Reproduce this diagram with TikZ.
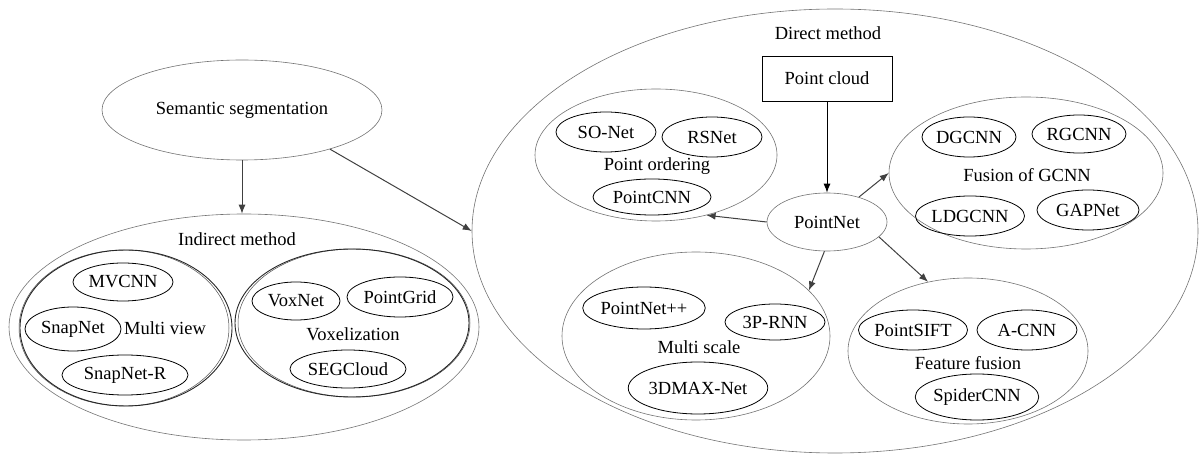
\documentclass[tikz,border=0pt]{standalone}
\usepackage{fontspec}
\setmainfont{Liberation Serif}
\usetikzlibrary{shapes.geometric,arrows.meta}
\begin{document}
\begin{tikzpicture}[x=1pt,y=-1pt,
  txt/.style={font=\fontsize{18.5}{20}\selectfont},
  sz/.style n args={2}{minimum width=#1pt,minimum height=#2pt},
  grp/.style={draw=black!55,line width=0.6pt,ellipse,inner sep=0pt},
  sub/.style={draw=black!85,line width=0.9pt,ellipse,inner sep=0pt},
  item/.style={draw=black,line width=0.8pt,ellipse,inner sep=0pt,txt},
  lbl/.style={inner sep=0pt,txt},
  arr/.style={draw=black!75,line width=1pt,-{Latex[length=9pt,width=7pt]}},
]
\useasboundingbox (0,0) rectangle (1200,454);

% left part
\node[grp,sz={280}{100},txt] (sem) at (242,110) {Semantic segmentation};
\node[grp,sz={470}{226}] (ind) at (244,327) {};
\node[lbl] (indl) at (237,239) {Indirect method};
\draw[black!70,line width=0.5pt] (124,328) ellipse [x radius=105, y radius=78];
\node[sub,sz={212}{156}] (mv) at (126,328) {};
\node[item,sz={100}{38}] (mvcnn) at (123,282) {MVCNN};
\node[item,sz={96}{44}] (snapnet) at (73,329) {SnapNet};
\node[lbl] (mvl) at (165,328) {Multi view};
\node[item,sz={126}{40}] (snapnetr) at (125,375) {SnapNet-R};
\draw[black!70,line width=0.5pt] (354,323) ellipse [x radius=116, y radius=74];
\node[sub,sz={234}{148}] (vox) at (352,323) {};
\node[item,sz={88}{38}] (voxnet) at (296,301) {VoxNet};
\node[item,sz={106}{40}] (pointgrid) at (400,297) {PointGrid};
\node[lbl] (voxl) at (353,334) {Voxelization};
\node[item,sz={116}{38}] (segcloud) at (348,369) {SEGCloud};

% right part
\node[grp,sz={726}{444}] (direct) at (835,231) {};
\node[lbl] (dirl) at (828,33) {Direct method};
\node[draw=black,line width=0.8pt,rectangle,inner sep=0pt,sz={130}{45},txt] (pc) at (827,78.5) {Point cloud};
\node[grp,sz={120}{58},txt] (pn) at (827,222) {PointNet};

\node[grp,sz={242}{132}] (po) at (656,155) {};
\node[item,sz={100}{40}] (sonet) at (606,132) {SO-Net};
\node[item,sz={100}{40}] (rsnet) at (712,137) {RSNet};
\node[lbl] (pol) at (657,166) {Point ordering};
\node[item,sz={118}{36}] (pointcnn) at (652,197) {PointCNN};

\node[grp,sz={274}{152}] (fg) at (1026,173) {};
\node[item,sz={94}{40}] (dgcnn) at (969,137) {DGCNN};
\node[item,sz={94}{38}] (rgcnn) at (1079,134) {RGCNN};
\node[lbl] (fgl) at (1027,175) {Fusion of GCNN};
\node[item,sz={96}{40}] (ldgcnn) at (970,216) {LDGCNN};
\node[item,sz={102}{40}] (gapnet) at (1088,210) {GAPNet};

\node[grp,sz={268}{168}] (ms) at (696,336) {};
\node[item,sz={122}{42}] (pnpp) at (644,308) {PointNet++};
\node[item,sz={100}{36}] (p3rnn) at (775,322) {3P-RNN};
\node[lbl] (msl) at (699,347) {Multi scale};
\node[item,sz={136}{52}] (dmax) at (698,388) {3DMAX-Net};

\node[grp,sz={240}{146}] (ff) at (968,351) {};
\node[item,sz={108}{40}] (psift) at (913,330) {PointSIFT};
\node[item,sz={100}{40}] (acnn) at (1027,330) {A-CNN};
\node[lbl] (ffl) at (968,363) {Feature fusion};
\node[item,sz={120}{46}] (spider) at (977,397) {SpiderCNN};

% connectors
\draw[arr] (sem.south) -- (sem.south |- ind.north);
\draw[arr] (sem.-24) -- (direct.west);
\draw[arr,draw=black] (pc.south) -- (pn.north);
\draw[arr] (pn.west) -- (po.-50);
\draw[arr] (pn.38) -- (fg.west);
\draw[arr] (pn.-95) -- (ms.22);
\draw[arr] (pn.-16) -- (ff.120);
\end{tikzpicture}
\end{document}
